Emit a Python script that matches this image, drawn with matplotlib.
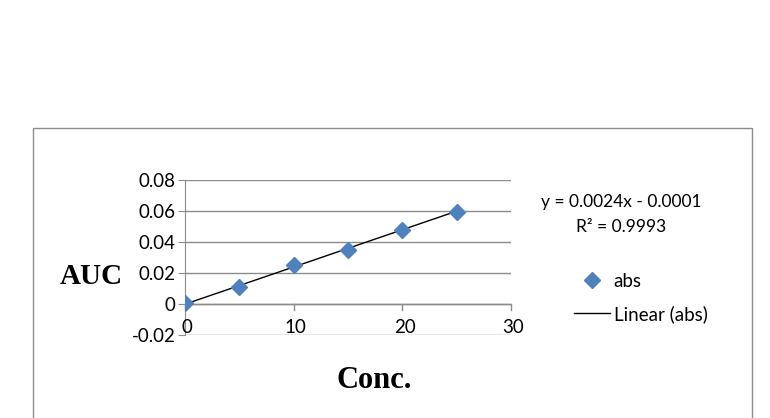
import matplotlib.pyplot as plt
from matplotlib.patches import Rectangle

conc = [0, 5, 10, 15, 20, 25]
auc = [0.0005, 0.011, 0.025, 0.035, 0.048, 0.0595]
slope = 0.0024
intercept = -0.0001
x_ticks = [0, 10, 20, 30]
y_ticks = [-0.02, 0, 0.02, 0.04, 0.06, 0.08]
y_tick_labels = ['-0.02', '0', '0.02', '0.04', '0.06', '0.08']

plt.rcParams['font.family'] = ['Lato', 'DejaVu Sans']

fig = plt.figure(figsize=(7.7, 4.18), dpi=100)
fig.patches.append(Rectangle((33 / 770, -0.05), (752 - 33) / 770, (418 - 128) / 418 + 0.05,
                             transform=fig.transFigure, fill=False, edgecolor='#8c8c8c', lw=1))

ax = fig.add_axes([185 / 770, 83 / 418, 326 / 770, 155 / 418])
ax.set_xlim(0, 30)
ax.set_ylim(-0.02, 0.08)

for yv in y_ticks:
    ax.axhline(yv, color='#8c8c8c', lw=1, zorder=0)

line_x = [conc[0], conc[-1]]
line_y = [slope * v + intercept for v in line_x]
ax.plot(line_x, line_y, color='black', lw=1, zorder=2, label='Linear (abs)')
ax.plot(conc, auc, linestyle='none', marker='D', color='#4F81BD', markersize=8, zorder=3, label='abs')

for s in ['top', 'right', 'bottom']:
    ax.spines[s].set_visible(False)
ax.spines['left'].set_color('#8c8c8c')
ax.axhline(0, color='#8c8c8c', lw=1, zorder=1)

ax.set_yticks(y_ticks)
ax.set_yticklabels(y_tick_labels, fontsize=13.5)
ax.tick_params(axis='y', length=5, color='#8c8c8c', pad=2)
ax.set_xticks([])
for xv in x_ticks:
    ax.plot([xv, xv], [0, -0.004], color='#8c8c8c', lw=1, clip_on=False)
    ax.text(xv + 0.2, -0.0152, str(xv), ha='center', va='center', fontsize=13.5)

fig.text(91 / 770, 1 - 276 / 418, 'AUC', fontsize=21, fontweight='bold',
         family='Liberation Serif', ha='center', va='center')
fig.text(374 / 770, 1 - 380 / 418, 'Conc.', fontsize=22, fontweight='bold',
         family='Liberation Serif', ha='center', va='center')

fig.text(621 / 770, 1 - 202 / 418, 'y = 0.0024x - 0.0001', fontsize=12.5, ha='center', va='center')
fig.text(621 / 770, 1 - 227 / 418, 'R² = 0.9993', fontsize=12.5, ha='center', va='center')

h, l = ax.get_legend_handles_labels()
fig.legend(h[::-1], l[::-1], loc='center left', bbox_to_anchor=(557 / 770, 1 - 298 / 418),
           frameon=False, fontsize=13.5, handlelength=1.9, handletextpad=0.22, labelspacing=0.8)

plt.savefig('out.png', dpi=100)
